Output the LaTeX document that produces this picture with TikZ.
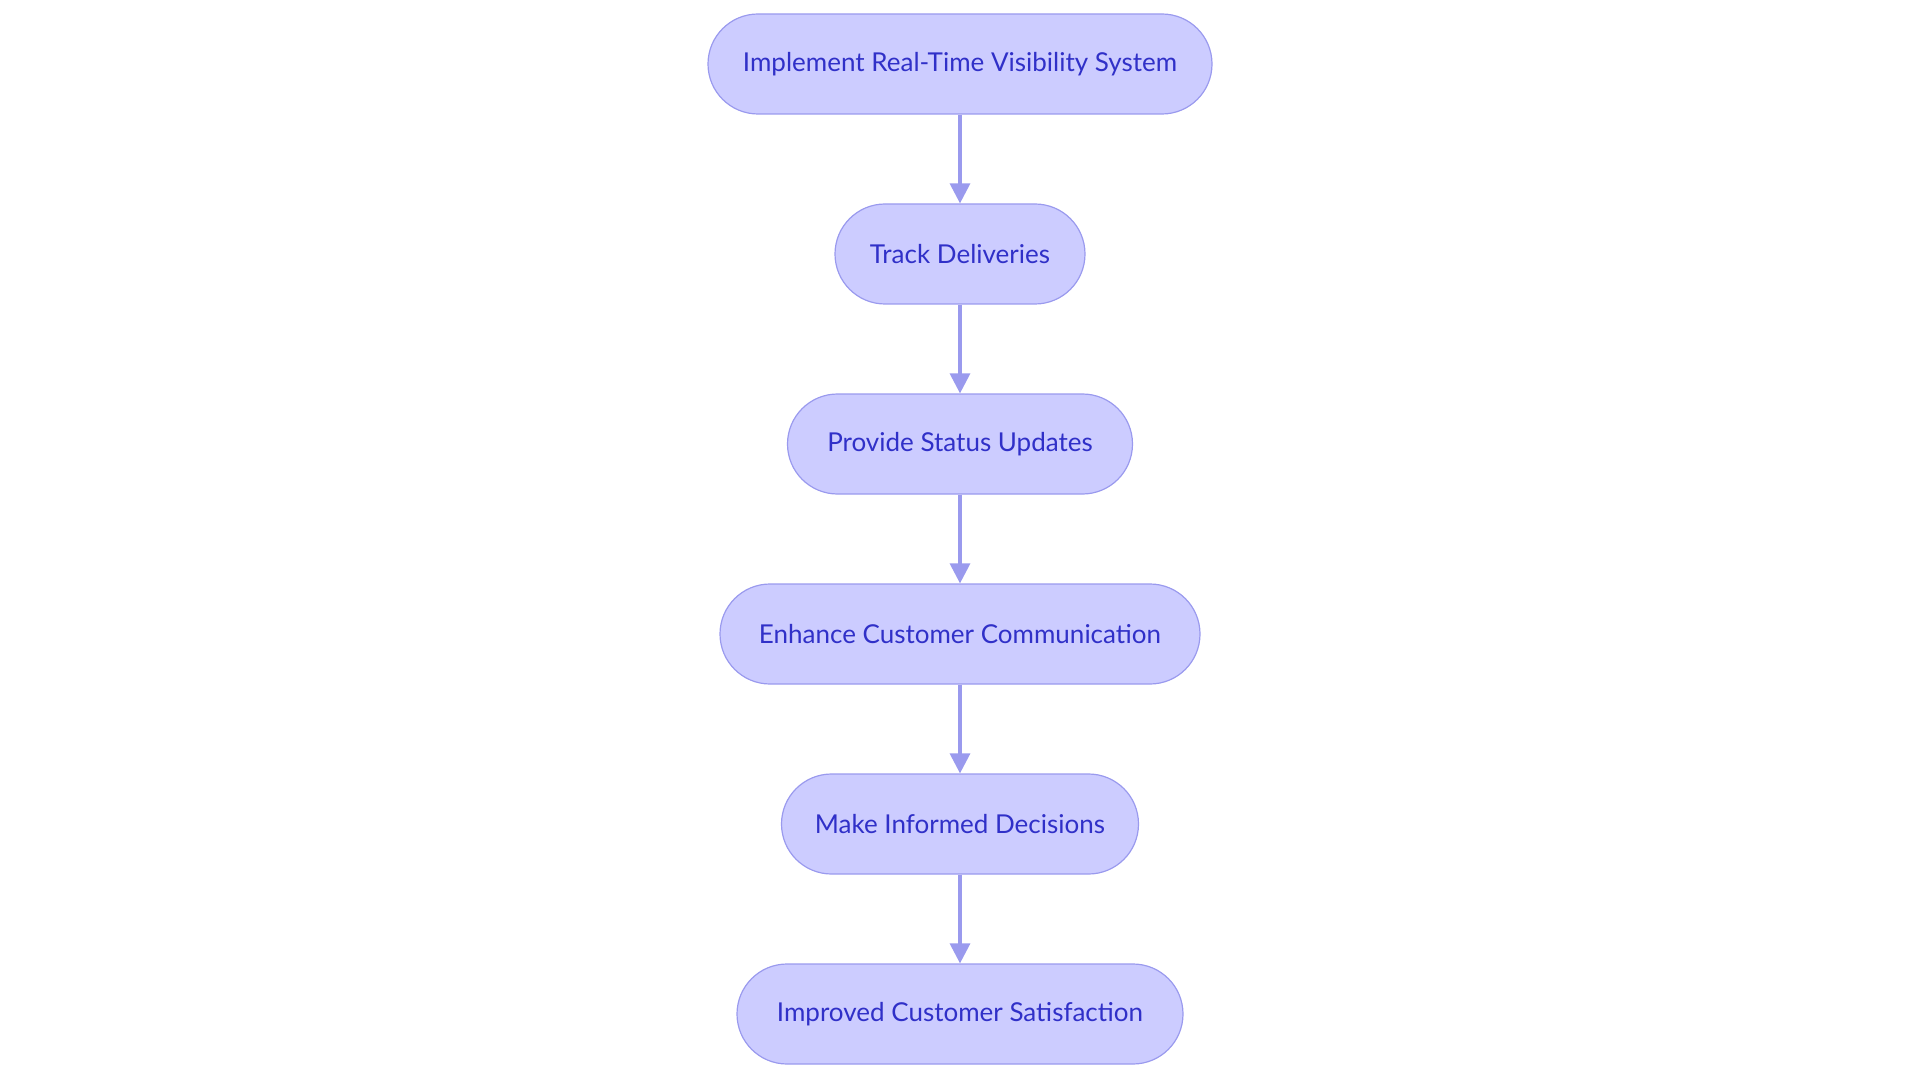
\documentclass[tikz,border=0pt]{standalone}
\usepackage{fontspec}
\setmainfont{Lato}
\usetikzlibrary{arrows.meta}
\definecolor{nfill}{HTML}{CCCCFF}
\definecolor{nline}{HTML}{9A9AEE}
\definecolor{ntext}{HTML}{3030C8}
\begin{document}
\begin{tikzpicture}[x=1pt,y=-1pt,
  box/.style={draw=nline,fill=nfill,line width=1.2pt,rounded corners=50pt,minimum height=100pt,text=ntext,font=\fontsize{26}{30}\selectfont,inner sep=0pt},
  arr/.style={draw=nline,line width=3.2pt,-{Triangle[length=20pt,width=20pt]}}]
\useasboundingbox (0,0) rectangle (1920,1083);
\node[box,minimum width=504pt] (a) at (960,64) {Implement Real-Time Visibility System};
\node[box,minimum width=250pt] (b) at (960,254) {Track Deliveries};
\node[box,minimum width=345pt] (c) at (960,444) {Provide Status Updates};
\node[box,minimum width=480pt] (d) at (960,634) {Enhance Customer Communication};
\node[box,minimum width=357pt] (e) at (960,824) {Make Informed Decisions};
\node[box,minimum width=446pt] (f) at (960,1014) {Improved Customer Satisfaction};
\draw[arr] (a) -- (b);
\draw[arr] (b) -- (c);
\draw[arr] (c) -- (d);
\draw[arr] (d) -- (e);
\draw[arr] (e) -- (f);
\end{tikzpicture}
\end{document}
